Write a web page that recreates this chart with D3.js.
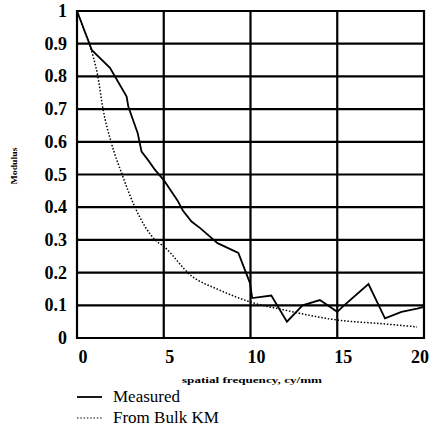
<!DOCTYPE html>
<meta charset="utf-8">
<head>
  <title>Modulus vs spatial frequency</title>
</head>

<style>
body { margin: 0; background: white; }
.grid line { stroke: black; stroke-width: 2.2px; }
.tick-label {
  font-family: "Liberation Serif", serif;
  font-weight: bold;
  font-size: 18px;
  fill: black;
}
.small-title {
  font-family: "Liberation Serif", serif;
  font-weight: bold;
  font-size: 9px;
  fill: black;
}
.legend text {
  font-family: "Liberation Serif", serif;
  font-size: 17px;
  fill: black;
}
</style>

<body>
  <svg width="434" height="429"></svg>

  <script src="https://cdnjs.cloudflare.com/ajax/libs/d3/7.8.5/d3.min.js"></script>
  <script>
var xTicks = [0, 5, 10, 15, 20];
var yTicks = [0, 0.1, 0.2, 0.3, 0.4, 0.5, 0.6, 0.7, 0.8, 0.9, 1];

// measured MTF
var measuredX = [0, 0.86, 1.9, 2.86, 2.96, 3.5, 3.72, 4.1, 4.5, 5.0, 5.8, 6.1, 6.6, 7.1, 8.1, 9.3, 9.97, 10.1, 11.2, 12.1, 13.0, 14.0, 15.0, 15.3, 16.8, 17.75, 18.7, 19.6, 20];
var measuredY = [1, 0.88, 0.826, 0.738, 0.707, 0.626, 0.57, 0.544, 0.514, 0.483, 0.42, 0.39, 0.356, 0.336, 0.29, 0.26, 0.168, 0.122, 0.13, 0.05, 0.10, 0.116, 0.08, 0.095, 0.165, 0.06, 0.08, 0.09, 0.095];

// bulk KM model
var kmX = [0, 0.35, 0.7, 1.2, 1.5, 1.96, 2.6, 3.34, 4.5, 5, 6.6, 8.2, 10, 12, 15, 17.5, 19.6];
var kmY = [1, 0.95, 0.9, 0.8, 0.7, 0.6, 0.5, 0.4, 0.3, 0.28, 0.19, 0.147, 0.11, 0.085, 0.055, 0.044, 0.034];

var svg = d3.select('svg');

var x = d3.scaleLinear().domain([0, 20]).range([77, 424]);
var y = d3.scaleLinear().domain([0, 1]).range([338, 11]);

var grid = svg.append('g').attr('class', 'grid');

grid.selectAll('.h')
  .data(yTicks)
  .enter()
  .append('line')
  .attr('x1', x(0) - 1)
  .attr('x2', x(20) + 1)
  .attr('y1', function(d) { return y(d); })
  .attr('y2', function(d) { return y(d); });

grid.selectAll('.v')
  .data(xTicks)
  .enter()
  .append('line')
  .attr('y1', y(1) - 1)
  .attr('y2', y(0) + 1)
  .attr('x1', function(d) { return x(d); })
  .attr('x2', function(d) { return x(d); });

svg.selectAll('.ylab')
  .data(yTicks)
  .enter()
  .append('text')
  .attr('class', 'tick-label')
  .attr('x', 67)
  .attr('y', function(d) { return y(d) + 6; })
  .attr('text-anchor', 'end')
  .text(function(d) { return d === 0 || d === 1 ? d : d.toFixed(1); });

svg.selectAll('.xlab')
  .data(xTicks)
  .enter()
  .append('text')
  .attr('class', 'tick-label')
  .attr('x', function(d) { return x(d) + (d === 20 ? -4 : 6); })
  .attr('y', 363)
  .attr('text-anchor', 'middle')
  .text(function(d) { return d; });

svg.append('text')
  .attr('class', 'small-title')
  .attr('x', 182)
  .attr('y', 383)
  .attr('textLength', 140)
  .attr('lengthAdjust', 'spacingAndGlyphs')
  .text('spatial frequency, cy/mm');

svg.append('text')
  .attr('class', 'small-title')
  .attr('transform', 'translate(17,166) rotate(-90)')
  .attr('text-anchor', 'middle')
  .attr('textLength', 37)
  .attr('lengthAdjust', 'spacingAndGlyphs')
  .text('Modulus');

var line = d3.line()
  .x(function(d) { return x(d[0]); })
  .y(function(d) { return y(d[1]); });

svg.append('path')
  .datum(d3.zip(measuredX, measuredY))
  .attr('d', line)
  .attr('fill', 'none')
  .attr('stroke', 'black')
  .attr('stroke-width', 1.8);

svg.append('path')
  .datum(d3.zip(kmX, kmY))
  .attr('d', d3.line().curve(d3.curveMonotoneX).x(function(d) { return x(d[0]); }).y(function(d) { return y(d[1]); }))
  .attr('fill', 'none')
  .attr('stroke', 'black')
  .attr('stroke-width', 1.5)
  .attr('stroke-dasharray', '1.5,1.8');

var legend = svg.append('g').attr('class', 'legend');
legend.append('line')
  .attr('x1', 77).attr('x2', 102).attr('y1', 397).attr('y2', 397)
  .attr('stroke', 'black').attr('stroke-width', 1.8);
legend.append('line')
  .attr('x1', 77).attr('x2', 102).attr('y1', 418).attr('y2', 418)
  .attr('stroke', 'black').attr('stroke-width', 1.2)
  .attr('stroke-dasharray', '1.5,1.8');
legend.append('text').attr('x', 113).attr('y', 402).text('Measured');
legend.append('text').attr('x', 113).attr('y', 423).text('From Bulk KM');
  </script>
</body>
</html>
